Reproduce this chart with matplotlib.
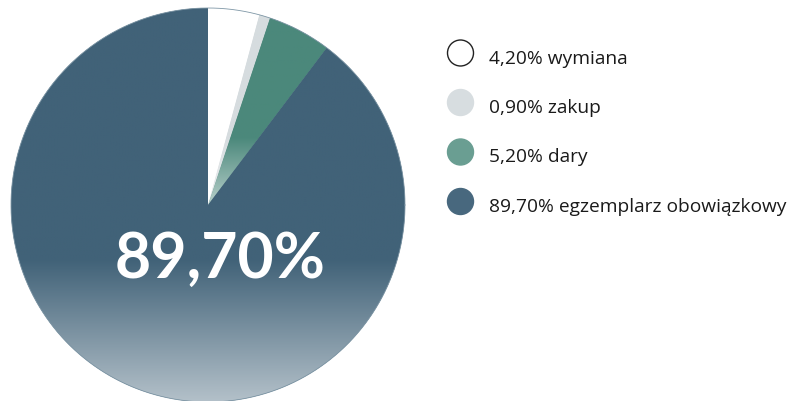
import numpy as np
import matplotlib
matplotlib.use("Agg")
import matplotlib.pyplot as plt
from matplotlib.colors import to_rgb

# ---- data ----
labels = ["wymiana", "zakup", "dary", "egzemplarz obowiązkowy"]
values = [4.20, 0.90, 5.20, 89.70]
value_labels = ["4,20%", "0,90%", "5,20%", "89,70%"]
slice_colors = ["#ffffff", "#d6dcdf", "#4b887b", "#416278"]
legend_colors = ["#ffffff", "#d7dde0", "#6a9e92", "#48687e"]
big_label = "89,70%"

W, H = 788, 402
fig = plt.figure(figsize=(W / 100, H / 100), dpi=100)
ax = fig.add_axes([0, 0, 1, 1])

cx, cy, R = 208, H - 206, 197
wedges, _ = ax.pie(values, colors=slice_colors, startangle=90, counterclock=False,
                   center=(cx, cy), radius=R, wedgeprops=dict(linewidth=0))


def grad_img(c0, n=200, start=0.64, mix=0.6):
    c0 = np.array(to_rgb(c0))
    c1 = c0 + (1 - c0) * mix
    t = np.linspace(0, 1, n)
    f = np.clip((t - start) / (1 - start), 0, 1)[:, None]
    col = c0[None, :] * (1 - f) + c1[None, :] * f
    return np.repeat(col[:, None, :], 2, axis=1)


for w, c in zip(wedges, slice_colors):
    th = np.radians(np.linspace(w.theta1, w.theta2, 200))
    xs = np.concatenate([[cx], cx + R * np.cos(th)])
    ys = np.concatenate([[cy], cy + R * np.sin(th)])
    x0, x1, y0, y1 = xs.min(), xs.max(), ys.min(), ys.max()
    im = ax.imshow(grad_img(c), extent=(x0, x1, y0, y1), origin="upper",
                   aspect="auto", interpolation="bilinear", zorder=2)
    im.set_clip_path(w)

# thin outer rim
th = np.linspace(0, 2 * np.pi, 400)
ax.plot(cx + R * np.cos(th), cy + R * np.sin(th), color="#7f97a6", lw=0.6, zorder=3)

ax.text(220, H - 260, big_label, color="white", fontsize=45, fontweight="bold",
        family=["Lato", "DejaVu Sans"], ha="center", va="center", zorder=5)

# legend
ly0, dy = 54, 49.5
for i, (lab, vl, lc) in enumerate(zip(labels, value_labels, legend_colors)):
    yc = ly0 + i * dy
    circ = plt.Circle((460.5, H - yc), 13, facecolor=lc,
                      edgecolor="#222222" if lc == "#ffffff" else lc, linewidth=1, zorder=5)
    ax.add_patch(circ)
    ax.text(489, H - (yc + 9.5), f"{vl} {lab}", fontsize=13.8, color="#1a1a1a",
            family=["Open Sans", "DejaVu Sans"], ha="left", va="baseline", zorder=5)

ax.set_xlim(0, W)
ax.set_ylim(0, H)
ax.set_aspect("auto")
ax.axis("off")
fig.savefig("out.png", dpi=100)
